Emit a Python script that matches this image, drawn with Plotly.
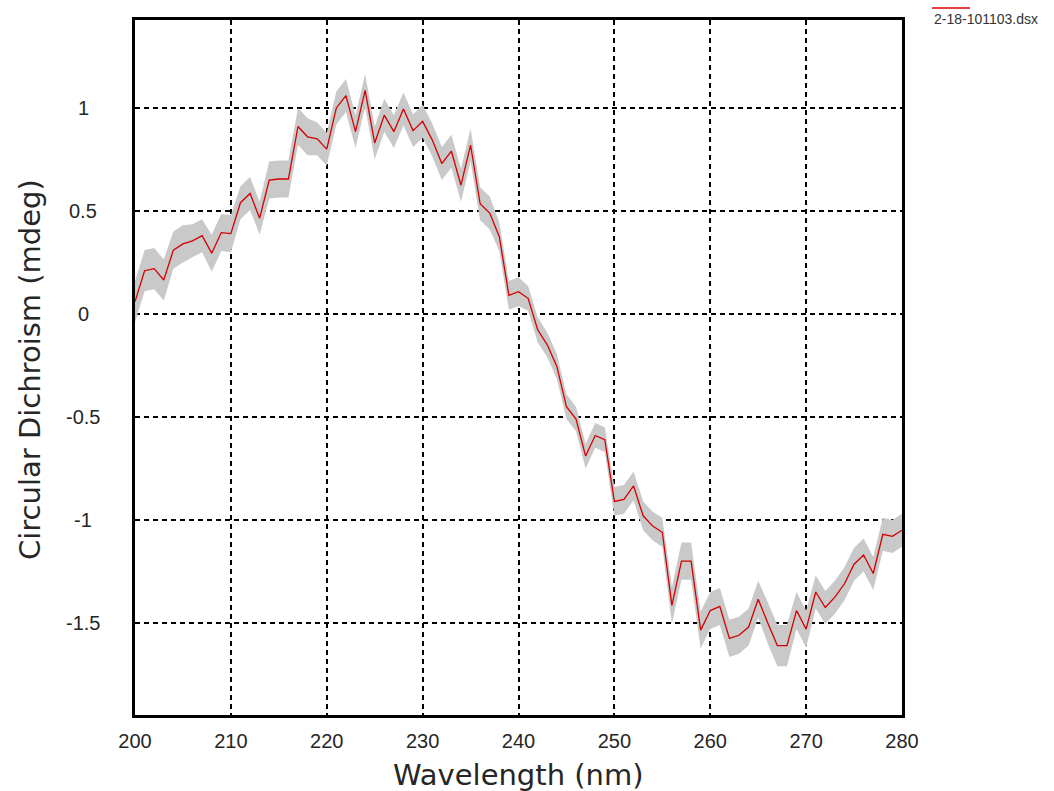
import plotly.graph_objects as go

# CD spectrum, 200-280 nm at 1 nm steps
wavelength = list(range(200, 281))
cd_mdeg = [
    0.06, 0.21, 0.22, 0.165, 0.31, 0.34, 0.355, 0.38, 0.295, 0.395,
    0.39, 0.54, 0.585, 0.465, 0.65, 0.655, 0.655, 0.91, 0.86, 0.85,
    0.80, 1.00, 1.06, 0.885, 1.085, 0.83, 0.965, 0.885, 0.995, 0.89,
    0.935, 0.845, 0.73, 0.79, 0.625, 0.82, 0.535, 0.49, 0.375, 0.09,
    0.108, 0.076, -0.077, -0.15, -0.255, -0.45, -0.51, -0.69, -0.59, -0.61,
    -0.91, -0.90, -0.835, -0.98, -1.03, -1.06, -1.415, -1.20, -1.20, -1.535,
    -1.44, -1.42, -1.575, -1.56, -1.52, -1.385, -1.50, -1.61, -1.61, -1.44,
    -1.53, -1.35, -1.425, -1.375, -1.31, -1.215, -1.17, -1.26, -1.07, -1.08,
    -1.05,
]
# half-width of the shaded spread around the spectrum
spread = [
    0.10, 0.10, 0.10, 0.10, 0.09, 0.09, 0.08, 0.08, 0.09, 0.09,
    0.09, 0.08, 0.08, 0.08, 0.09, 0.09, 0.09, 0.09, 0.09, 0.08,
    0.08, 0.08, 0.08, 0.08, 0.08, 0.08, 0.08, 0.08, 0.08, 0.08,
    0.08, 0.08, 0.08, 0.08, 0.08, 0.08, 0.08, 0.08, 0.07, 0.07,
    0.07, 0.06, 0.06, 0.06, 0.06, 0.06, 0.06, 0.06, 0.06, 0.06,
    0.07, 0.07, 0.07, 0.07, 0.07, 0.07, 0.09, 0.09, 0.09, 0.09,
    0.09, 0.09, 0.09, 0.09, 0.09, 0.09, 0.10, 0.10, 0.10, 0.09,
    0.09, 0.08, 0.08, 0.08, 0.08, 0.08, 0.08, 0.08, 0.08, 0.08,
    0.08,
]
x_ticks = [200, 210, 220, 230, 240, 250, 260, 270, 280]
y_ticks = [-1.5, -1, -0.5, 0, 0.5, 1]
y_tick_text = ["-1.5", "-1", "-0.5", "0", "0.5", "1"]
x_title = "Wavelength (nm)"
y_title = "Circular Dichroism (mdeg)"
series_name = "2-18-101103.dsx"

lower = [v - s for v, s in zip(cd_mdeg, spread)]
upper = [v + s for v, s in zip(cd_mdeg, spread)]

Y_MIN, Y_MAX = -1.947, 1.427
FONT = "Liberation Sans, Arial, sans-serif"
TITLE_FONT = "DejaVu Sans, Liberation Sans, sans-serif"
TEXT = "#262626"

# plot-area geometry in pixels
L, R, T, B = 135, 902, 20, 715
PW, PH = R - L, B - T

fig = go.Figure()
fig.add_trace(go.Scatter(x=wavelength, y=lower, mode="lines",
                         line=dict(width=0, color="#c9c9c9"),
                         showlegend=False, hoverinfo="skip"))
fig.add_trace(go.Scatter(x=wavelength, y=upper, mode="lines",
                         line=dict(width=0, color="#c9c9c9"),
                         fill="tonexty", fillcolor="#c9c9c9",
                         showlegend=False, hoverinfo="skip"))
fig.add_trace(go.Scatter(x=wavelength, y=cd_mdeg, mode="lines",
                         line=dict(width=1.3, color="#d40000"),
                         name=series_name, showlegend=False))

grid = dict(showgrid=True, gridcolor="black", gridwidth=1.6, griddash="5px,4px",
            showline=True, linecolor="black", linewidth=2.5, mirror=True,
            zeroline=False, ticks="", automargin=False)

fig.update_xaxes(range=[200, 280], tickvals=x_ticks, ticklabelstandoff=6,
                 tickfont=dict(family=FONT, size=20, color=TEXT), **grid)
fig.update_yaxes(range=[Y_MIN, Y_MAX], tickvals=y_ticks, showticklabels=False, **grid)

# y tick labels, centred in the left margin
for v, t in zip(y_ticks, y_tick_text):
    fig.add_annotation(x=(83 - L) / PW, xref="paper", y=v, yref="y", text=t,
                       showarrow=False, xanchor="center", yanchor="middle",
                       font=dict(family=FONT, size=20, color=TEXT))

# axis titles
fig.add_annotation(x=(518 - L) / PW, xref="paper", y=(B - 775) / PH, yref="paper",
                   text=x_title, showarrow=False, xanchor="center", yanchor="middle",
                   font=dict(family=TITLE_FONT, size=29, color=TEXT))
fig.add_annotation(x=(30 - L) / PW, xref="paper", y=(B - 370) / PH, yref="paper",
                   text=y_title, textangle=-90, showarrow=False,
                   xanchor="center", yanchor="middle",
                   font=dict(family=TITLE_FONT, size=29, color=TEXT))

# series key in the top-right corner
fig.add_shape(type="line", xref="paper", yref="paper",
              x0=(932 - L) / PW, x1=(970 - L) / PW,
              y0=1 + 12 / PH, y1=1 + 12 / PH,
              line=dict(color="#e00000", width=1.5))
fig.add_annotation(x=(932 - L) / PW, xref="paper", y=1 + 1 / PH, yref="paper",
                   text=series_name, showarrow=False, xanchor="left", yanchor="middle",
                   font=dict(family=FONT, size=14, color="#333333"))

fig.update_layout(width=1054, height=791,
                  margin=dict(l=L, r=1054 - R, t=T, b=791 - B),
                  paper_bgcolor="white", plot_bgcolor="white",
                  showlegend=False)

fig.write_html("out.html")
